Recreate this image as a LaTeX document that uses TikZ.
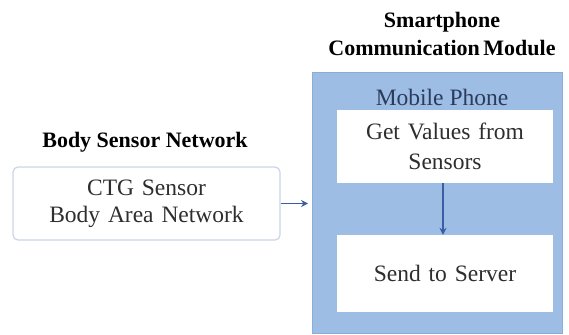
\documentclass[tikz,border=0pt]{standalone}
\usepackage{fontspec}
\setmainfont{Liberation Serif}
\usetikzlibrary{arrows.meta}
\definecolor{panelblue}{HTML}{9EBDE4}
\definecolor{paneledge}{HTML}{8CADDA}
\definecolor{boxedge}{HTML}{C9D5E6}
\definecolor{textgray}{HTML}{2E2E2E}
\definecolor{navytext}{HTML}{2B3B5C}
\definecolor{arrowblue}{HTML}{3A5DA3}
\tikzset{
  heading/.style={font=\fontsize{22}{26}\selectfont\bfseries, text=black, align=center},
  bodytext/.style={font=\fontsize{23.5}{28}\selectfont, text=textgray, align=center},
  sensorbox/.style={draw=boxedge, line width=1.2pt, rounded corners=5pt, fill=white,
    minimum width=267pt, minimum height=73pt, inner sep=0pt},
  stagebox/.style={fill=white, minimum width=216pt, inner sep=0pt},
  panel/.style={fill=panelblue, draw=paneledge, line width=1pt},
  flow/.style={draw=arrowblue, line width=1.8pt, -{Stealth[length=7pt,width=7pt]}}
}
\begin{document}
\begin{tikzpicture}[x=1pt,y=-1pt]
  \useasboundingbox (0,0) rectangle (569,334);

  % left column: sensor network
  \node[heading] (bsntitle) at (145,142) {Body Sensor Network};
  \node[sensorbox, bodytext, text width=260pt] (bsn) at (146.5,203.5)
    {CTG Sensor\\[-1pt]Body Area Network};

  % right column: smartphone module
  \node[heading, font=\fontsize{22}{28}\selectfont\bfseries] (smtitle) at (442,34)
    {Smartphone\\Communication\hspace{-2pt} Module};
  \node[panel, minimum width=250pt, minimum height=261pt, inner sep=0pt,
        anchor=north west] (phone) at (312,72) {};
  \node[font=\fontsize{23.5}{28}\selectfont, text=navytext] (phonelabel) at (442,97) {Mobile Phone};

  \node[stagebox, bodytext, minimum height=73pt, text width=210pt] (getvals) at (445,146.5)
    {Get Values from\\[2pt]Sensors};
  \node[stagebox, bodytext, minimum height=77pt, text width=210pt] (send) at (445,273.5)
    {Send to Server};

  % connectors
  \draw[flow] (bsn.east) -- ([xshift=-4pt]bsn.east -| phone.west);
  \draw[flow, line width=1.4pt] (getvals.south -| 443,0) -- (send.north -| 443,0);
\end{tikzpicture}
\end{document}
